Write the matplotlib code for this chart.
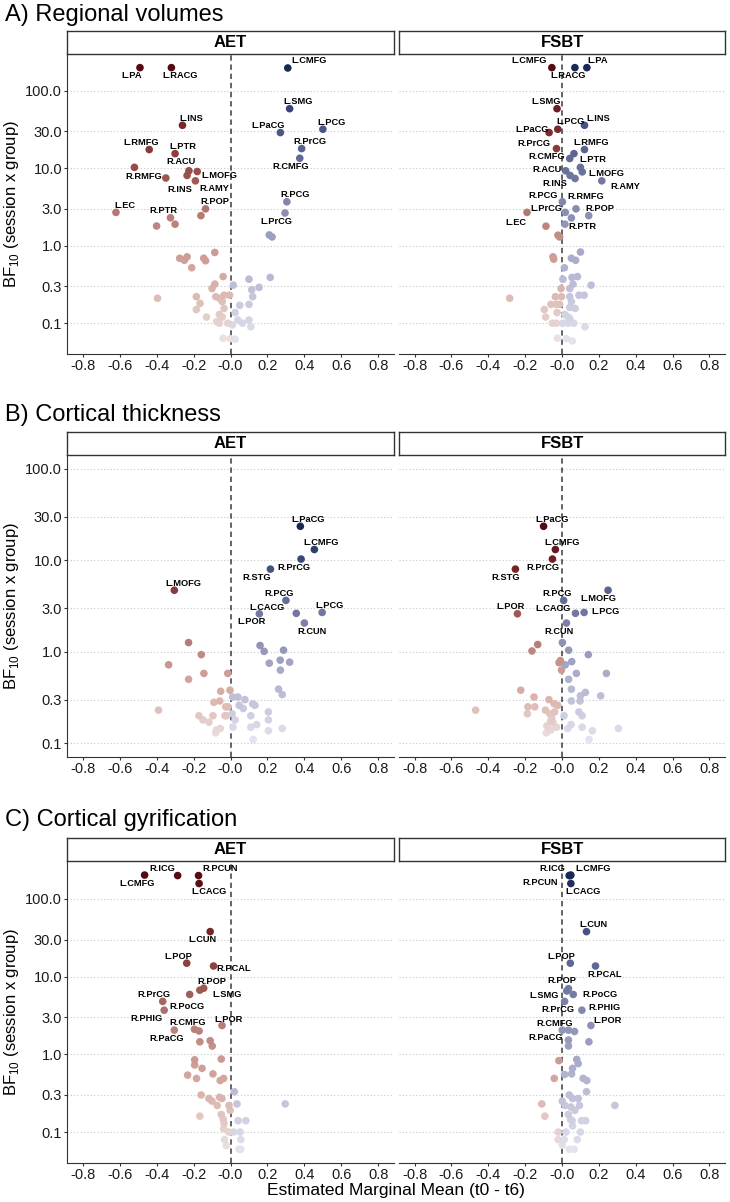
import numpy as np
import matplotlib
matplotlib.use("Agg")
import matplotlib.pyplot as plt
from matplotlib.colors import LinearSegmentedColormap
from matplotlib.ticker import FixedLocator, NullLocator

plt.rcParams['font.family'] = ['Liberation Sans', 'DejaVu Sans']
plt.rcParams['mathtext.fontset'] = 'custom'
plt.rcParams['mathtext.rm'] = 'Liberation Sans'
plt.rcParams['axes.unicode_minus'] = False

# ---------- A) Regional volumes ----------
vol_aet_lab = ['L.PA', 'L.RACG', 'L.CMFG', 'L.SMG', 'L.PaCG', 'L.PCG', 'L.INS', 'L.RMFG', 'L.PTR',
               'R.PrCG', 'R.CMFG', 'R.RMFG', 'R.ACU', 'L.MOFG', 'R.INS', 'R.AMY', 'R.POP', 'L.EC',
               'R.PTR', 'R.PCG', 'L.PrCG']
vol_aet_x = [-0.49, -0.32, 0.31, 0.32, 0.27, 0.50, -0.26, -0.44, -0.30, 0.385, 0.375, -0.52, -0.225,
             -0.18, -0.235, -0.19, -0.135, -0.62, -0.325, 0.305, 0.295]
vol_aet_bf = [200, 200, 198, 59, 29, 32, 36, 17.5, 15.5, 18, 13.5, 10.3, 9.3, 9.1, 8.1, 6.9, 3.0, 2.7,
              2.3, 3.7, 2.65]
vol_aet_x_other = [-0.35, -0.40, -0.30, -0.16, 0.21, 0.225, -0.085, -0.275, -0.25, -0.235, -0.145,
                   -0.135, -0.21, -0.04, -0.085, -0.10, -0.395, -0.185, -0.165, -0.185, -0.13, -0.08,
                   -0.06, -0.035, -0.005, -0.045, -0.035, -0.06, -0.045, -0.075, -0.06, -0.015, -0.04,
                   -0.002, 0.025, 0.10, 0.215, 0.015, 0.115, 0.155, 0.12, 0.05, 0.10, 0.025, 0.04,
                   0.065, 0.10, 0.11, 0.01]
vol_aet_bf_other = [7.5, 1.8, 1.9, 2.45, 1.38, 1.3, 0.82, 0.69, 0.65, 0.72, 0.69, 0.64, 0.52, 0.40,
                    0.32, 0.28, 0.21, 0.22, 0.18, 0.15, 0.12, 0.22, 0.21, 0.23, 0.23, 0.19, 0.155,
                    0.13, 0.12, 0.105, 0.10, 0.10, 0.064, 0.063, 0.062, 0.37, 0.39, 0.31, 0.27, 0.29,
                    0.22, 0.17, 0.175, 0.137, 0.11, 0.10, 0.11, 0.09, 0.095]

vol_fsbt_lab = ['L.CMFG', 'L.RACG', 'L.PA', 'L.SMG', 'L.INS', 'L.PCG', 'L.PaCG', 'R.PrCG', 'L.RMFG',
                'R.CMFG', 'L.PTR', 'R.ACU', 'L.MOFG', 'R.INS', 'R.AMY', 'R.PCG', 'R.RMFG', 'L.PrCG',
                'R.POP', 'L.EC', 'R.PTR']
vol_fsbt_x = [-0.055, 0.07, 0.135, -0.027, 0.122, -0.023, -0.07, -0.03, 0.122, 0.042, 0.065, 0.02,
              0.11, 0.044, 0.216, 0.002, 0.10, 0.018, 0.145, -0.19, 0.016]
vol_fsbt_bf = [200, 200, 200, 59, 36, 32, 29, 18, 17.5, 13.4, 15.5, 9.3, 9.0, 8.1, 6.9, 3.7, 10.3,
               2.7, 2.45, 2.7, 1.9]
vol_fsbt_x_other = [0.071, 0.076, 0.051, -0.087, -0.022, -0.013, 0.10, 0.051, 0.074, -0.049, -0.045,
                    0.013, 0.005, 0.054, 0.084, 0.06, 0.158, -0.005, 0.042, -0.284, -0.036, -0.003,
                    0.042, 0.092, 0.12, 0.051, -0.06, -0.03, -0.013, 0.042, 0.071, -0.096, -0.027,
                    -0.089, 0.015, 0.033, 0.042, -0.052, -0.03, 0.005, 0.033, 0.064, 0.125, -0.025,
                    0.024, 0.056]
vol_fsbt_bf_other = [7.4, 3.0, 2.29, 1.79, 1.37, 1.3, 0.83, 0.69, 0.65, 0.72, 0.67, 0.52, 0.37, 0.39,
                     0.40, 0.32, 0.31, 0.28, 0.28, 0.21, 0.22, 0.22, 0.22, 0.23, 0.23, 0.19, 0.175,
                     0.175, 0.175, 0.16, 0.155, 0.15, 0.137, 0.12, 0.13, 0.12, 0.115, 0.10, 0.10,
                     0.10, 0.10, 0.10, 0.09, 0.064, 0.063, 0.059]

# ---------- B) Cortical thickness ----------
thk_aet_lab = ['L.PaCG', 'L.CMFG', 'R.PrCG', 'R.STG', 'L.MOFG', 'R.PCG', 'L.CACG', 'L.POR', 'L.PCG',
               'R.CUN']
thk_aet_x = [0.378, 0.454, 0.382, 0.216, -0.304, 0.30, 0.356, 0.156, 0.496, 0.40]
thk_aet_bf = [23.5, 13.1, 10.3, 8.0, 4.7, 3.64, 2.63, 2.6, 2.69, 2.06]
thk_aet_x_other = [-0.227, -0.158, -0.335, -0.144, -0.227, -0.015, -0.053, -0.003, 0.16, 0.182,
                   0.287, 0.21, 0.269, 0.32, 0.27, 0.26, 0.28, 0.011, 0.04, -0.39, -0.09, -0.058,
                   -0.026, -0.013, 0.047, 0.078, 0.069, 0.12, 0.132, 0.205, -0.171, -0.149, -0.117,
                   -0.095, -0.022, 0.009, 0.025, 0.014, 0.11, 0.142, 0.11, 0.205, 0.205, 0.28,
                   -0.076, -0.055, -0.08, 0.123, -0.03]
thk_aet_bf_other = [1.26, 0.93, 0.72, 0.58, 0.50, 0.58, 0.37, 0.38, 1.17, 1.01, 1.04, 0.75, 0.81,
                    0.77, 0.63, 0.39, 0.34, 0.32, 0.32, 0.23, 0.28, 0.29, 0.25, 0.25, 0.26, 0.30,
                    0.24, 0.27, 0.26, 0.22, 0.20, 0.18, 0.17, 0.20, 0.20, 0.21, 0.18, 0.15, 0.20,
                    0.16, 0.15, 0.18, 0.137, 0.145, 0.14, 0.145, 0.13, 0.11, 0.20]

thk_fsbt_lab = ['L.PaCG', 'L.CMFG', 'R.PrCG', 'R.STG', 'L.MOFG', 'R.PCG', 'L.POR', 'L.CACG', 'L.PCG',
                'R.CUN']
thk_fsbt_x = [-0.10, -0.036, -0.052, -0.253, 0.25, 0.009, -0.242, 0.073, 0.12, 0.024]
thk_fsbt_bf = [23.5, 13.1, 10.3, 8.0, 4.7, 3.64, 2.6, 2.63, 2.69, 2.06]
thk_fsbt_x_other = [0.002, -0.132, -0.163, 0.036, 0.143, -0.016, -0.009, -0.003, 0.018, 0.053,
                    0.078, 0.241, 0.036, 0.051, -0.224, -0.152, 0.10, 0.127, 0.21, 0.051, 0.098,
                    -0.071, -0.043, -0.023, -0.469, -0.185, -0.148, -0.188, -0.09, -0.067, -0.056,
                    0.011, 0.092, 0.109, 0.049, -0.082, -0.061, -0.085, 0.109, 0.031, 0.165, 0.306,
                    0.147, -0.04, -0.05, -0.03, -0.06]
thk_fsbt_bf_other = [1.26, 1.2, 1.02, 1.04, 0.93, 0.76, 0.8, 0.63, 0.72, 0.78, 0.58, 0.58, 0.5,
                     0.39, 0.38, 0.32, 0.33, 0.36, 0.33, 0.29, 0.29, 0.30, 0.27, 0.26, 0.23, 0.25,
                     0.25, 0.21, 0.23, 0.21, 0.19, 0.20, 0.22, 0.20, 0.16, 0.155, 0.175, 0.13, 0.15,
                     0.145, 0.137, 0.145, 0.11, 0.22, 0.17, 0.15, 0.14]

# ---------- C) Cortical gyrification ----------
gyr_aet_lab = ['L.CMFG', 'R.ICG', 'R.PCUN', 'L.CACG', 'L.CUN', 'L.POP', 'R.PCAL', 'R.POP', 'L.SMG',
               'R.PoCG', 'R.PrCG', 'R.PHIG', 'R.CMFG', 'R.PaCG', 'L.POR']
gyr_aet_x = [-0.465, -0.286, -0.173, -0.17, -0.11, -0.237, -0.092, -0.145, -0.166, -0.221, -0.367,
             -0.359, -0.195, -0.304, -0.046]
gyr_aet_bf = [203, 200, 200, 158, 38, 14.9, 13.7, 7.1, 6.7, 5.9, 4.8, 3.7, 2.1, 2.05, 2.35]
gyr_aet_x_other = [-0.17, -0.166, -0.11, -0.099, -0.194, -0.194, -0.154, -0.05, -0.232, -0.184,
                   -0.095, -0.037, -0.056, -0.159, -0.117, -0.10, -0.072, -0.059, -0.046, -0.008,
                   -0.002, -0.166, -0.05, -0.039, -0.035, -0.037, -0.032, -0.023, -0.01, 0.021,
                   0.035, 0.041, 0.083, 0.017, 0.052, 0.296, 0.056, 0.046, 0.056]
gyr_aet_bf_other = [2.0, 1.45, 1.5, 1.28, 0.85, 0.73, 0.66, 0.87, 0.54, 0.49, 0.56, 0.49, 0.46,
                    0.30, 0.27, 0.25, 0.22, 0.28, 0.27, 0.22, 0.19, 0.16, 0.168, 0.146, 0.13, 0.11,
                    0.08, 0.067, 0.10, 0.33, 0.23, 0.14, 0.14, 0.10, 0.10, 0.23, 0.08, 0.06, 0.06]

gyr_fsbt_lab = ['R.ICG', 'L.CMFG', 'R.PCUN', 'L.CACG', 'L.CUN', 'L.POP', 'R.PCAL', 'R.POP', 'L.SMG',
                'R.PoCG', 'R.PrCG', 'R.PHIG', 'L.POR', 'R.CMFG', 'R.PaCG']
gyr_fsbt_x = [0.039, 0.048, 0.045, 0.048, 0.133, 0.045, 0.182, 0.035, 0.026, 0.061, 0.014, 0.108,
              0.157, 0.035, 0.001]
gyr_fsbt_bf = [200, 203, 200, 158, 38, 14.9, 13.7, 7.0, 6.55, 5.9, 4.8, 3.7, 2.35, 2.05, 2.05]
gyr_fsbt_x_other = [0.068, 0.035, 0.035, 0.146, -0.017, 0.08, 0.088, 0.057, -0.042, 0.014, 0.052,
                    0.115, 0.135, 0.133, 0.039, 0.057, 0.088, 0.001, -0.11, 0.016, 0.048, 0.095,
                    0.287, 0.07, 0.034, 0.046, 0.055, -0.093, 0.106, 0.129, 0.057, -0.021, 0.021,
                    0.1, -0.021, 0.012, 0.083, 0.001, 0.039, 0.066]
gyr_fsbt_bf_other = [1.97, 1.53, 1.28, 1.45, 0.83, 0.86, 0.76, 0.66, 0.49, 0.55, 0.56, 0.49, 0.46,
                     0.33, 0.30, 0.27, 0.27, 0.25, 0.23, 0.22, 0.21, 0.22, 0.22, 0.19, 0.168, 0.145,
                     0.14, 0.16, 0.14, 0.14, 0.12, 0.10, 0.10, 0.10, 0.08, 0.08, 0.08, 0.068, 0.06,
                     0.06]

# label nudges in pixels (ggrepel placement copied by eye), same order as the label lists
vol_aet_nudge = [(-8, -8), (9, -8), (21, 7), (9, 7), (-12, 7), (9, 7), (9, 7), (-8, 7), (8, 7),
                 (8, 7), (-9, -8), (9, -9), (-8, 9), (22, -4), (-7, -14), (19, -8), (9, 7), (9, 7),
                 (-7, 7), (8, 7), (-9, -8)]
vol_fsbt_nudge = [(-23, 7), (-7, -8), (11, 7), (-11, 7), (14, 7), (13, 8), (-17, 3), (-23, 5),
                  (7, 7), (-23, 2), (19, -6), (-19, 1), (24, -2), (-15, -8), (24, -6), (-19, 6),
                  (5, -29), (-19, 4), (11, 7), (-11, -10), (17, -2)]
thk_aet_nudge = [(8, 7), (7, 7), (-7, -8), (-14, -8), (9, 7), (-7, 7), (-29, 6), (-8, -8), (7, 7),
                 (8, -8)]
thk_fsbt_nudge = [(9, 7), (7, 7), (-9, -8), (-10, -8), (-10, -8), (-7, 7), (-7, 7), (-22, 5),
                  (21, 1), (-7, -8)]
gyr_aet_nudge = [(-7, -8), (-15, 7), (22, 7), (10, -8), (-8, -8), (-8, 7), (20, -2), (8, 7), (27, -4),
                 (-3, -12), (-9, 7), (-18, -8), (-7, 7), (-8, -8), (7, 6)]
gyr_fsbt_nudge = [(-17, 7), (22, 7), (-30, -7), (12, -8), (7, 7), (-9, 7), (9, -8), (-7, 8),
                  (-23, -5), (27, 0), (-7, -8), (23, 3), (17, 5), (-14, 7), (-16, -7)]

groups = ['AET', 'FSBT']
panel_titles = ['A) Regional volumes', 'B) Cortical thickness', 'C) Cortical gyrification']
panel_ylims = [(0.06, 200), (0.1, 100), (0.06, 205)]

panels = [
    [(vol_aet_lab, vol_aet_x, vol_aet_bf, vol_aet_x_other, vol_aet_bf_other, vol_aet_nudge),
     (vol_fsbt_lab, vol_fsbt_x, vol_fsbt_bf, vol_fsbt_x_other, vol_fsbt_bf_other, vol_fsbt_nudge)],
    [(thk_aet_lab, thk_aet_x, thk_aet_bf, thk_aet_x_other, thk_aet_bf_other, thk_aet_nudge),
     (thk_fsbt_lab, thk_fsbt_x, thk_fsbt_bf, thk_fsbt_x_other, thk_fsbt_bf_other, thk_fsbt_nudge)],
    [(gyr_aet_lab, gyr_aet_x, gyr_aet_bf, gyr_aet_x_other, gyr_aet_bf_other, gyr_aet_nudge),
     (gyr_fsbt_lab, gyr_fsbt_x, gyr_fsbt_bf, gyr_fsbt_x_other, gyr_fsbt_bf_other, gyr_fsbt_nudge)],
]

y_ticks = [0.1, 0.3, 1, 3, 10, 30, 100]
y_ticklabels = ['0.1', '0.3', '1.0', '3.0', '10.0', '30.0', '100.0']
x_ticks = np.round(np.arange(-0.8, 0.81, 0.2), 1)

red_cm = LinearSegmentedColormap.from_list('reds', [
    (0.0, '#ebe2e3'), (0.2, '#dab2aa'), (0.35, '#c9968e'), (0.5, '#ad726c'),
    (0.63, '#964b48'), (0.8, '#782426'), (1.0, '#550a14')])
blue_cm = LinearSegmentedColormap.from_list('blues', [
    (0.0, '#e3e3ee'), (0.2, '#bebfd7'), (0.35, '#a2a5c5'), (0.5, '#8488ad'),
    (0.63, '#69709b'), (0.8, '#435282'), (1.0, '#1a2855')])


def point_colors(x, bf, lo, hi):
    t = (np.log10(bf) - np.log10(lo)) / (np.log10(hi) - np.log10(lo))
    t = np.clip(t, 0, 1)
    return [red_cm(v) if xi < 0 else blue_cm(v) for xi, v in zip(x, t)]


# ---------- layout (pixels) ----------
W, H = 730, 1202
facet_x = [(67, 394), (399, 725)]
panel_y = [(54, 354), (455, 757), (861, 1163)]
title_y = [15, 415, 820]
strip_h = 23


def px_box(x0, y0, x1, y1):
    return [x0 / W, 1 - y1 / H, (x1 - x0) / W, (y1 - y0) / H]


fig = plt.figure(figsize=(W / 100, H / 100), dpi=100)

for p, (facets, title, (ylo, yhi)) in enumerate(zip(panels, panel_titles, panel_ylims)):
    y0, y1 = panel_y[p]
    fig.text(5 / W, 1 - title_y[p] / H, title, fontsize=17, ha='left', va='center')

    all_bf = np.concatenate([np.r_[f[2], f[4]] for f in facets])
    lo, hi = all_bf.min(), all_bf.max()
    span = np.log10(yhi) - np.log10(ylo)
    ylim = (10 ** (np.log10(ylo) - 0.05 * span), 10 ** (np.log10(yhi) + 0.05 * span))

    for g, (lab, x, bf, xo, bfo, nudge) in enumerate(facets):
        fx0, fx1 = facet_x[g]
        ax = fig.add_axes(px_box(fx0, y0, fx1, y1))

        xs = np.r_[x, xo]
        bfs = np.r_[bf, bfo]
        order = np.argsort(bfs)
        cols = point_colors(xs, bfs, lo, hi)
        ax.scatter(xs[order], bfs[order], s=30, c=[cols[i] for i in order],
                   linewidths=0, zorder=3)

        for name, xi, bi, (dx, dy) in zip(lab, x, bf, nudge):
            ax.annotate(name, (xi, bi), xytext=(dx, dy), textcoords='offset pixels',
                        ha='center', va='center', fontsize=6.7, fontweight='bold',
                        color='black', zorder=4)

        ax.axvline(0, color='#3a3a3a', lw=1.1, dashes=(3.5, 2.5), zorder=2)
        ax.set_yscale('log')
        ax.set_ylim(ylim)
        ax.set_xlim(-0.885, 0.885)
        ax.yaxis.set_major_locator(FixedLocator(y_ticks))
        ax.yaxis.set_minor_locator(NullLocator())
        ax.set_yticklabels(y_ticklabels)
        ax.set_xticks(x_ticks)
        ax.set_xticklabels(['%.1f' % v for v in x_ticks])
        ax.grid(axis='y', linestyle=(0, (1, 2)), color='#c8c8c8', lw=0.8, zorder=1)
        ax.set_axisbelow(True)

        for side in ['top', 'right']:
            ax.spines[side].set_visible(False)
        ax.spines['bottom'].set_color('#333333')
        ax.spines['left'].set_color('#333333')
        ax.tick_params(axis='both', labelsize=10.5, length=2, width=0.8, color='#333333',
                       pad=1.5, labelcolor='#1a1a1a')
        if g == 1:
            ax.spines['left'].set_visible(False)
            ax.tick_params(axis='y', left=False, labelleft=False)

        # facet strip
        sax = fig.add_axes(px_box(fx0, y0 - strip_h, fx1, y0))
        sax.set_xticks([])
        sax.set_yticks([])
        sax.set_facecolor('white')
        for sp in sax.spines.values():
            sp.set_color('#333333')
            sp.set_linewidth(1)
        sax.text(0.5, 0.5, groups[g], ha='center', va='center', fontsize=12,
                 fontweight='bold', transform=sax.transAxes)

    fig.text(12 / W, 1 - (y0 + y1) / 2 / H, r'BF$_{\mathregular{10}}$ (session x group)',
             rotation=90, ha='center', va='center', fontsize=12)

fig.text((67 + 725) / 2 / W, 1 - 1191 / H, 'Estimated Marginal Mean (t0 - t6)',
         ha='center', va='center', fontsize=12.5)

fig.savefig('out.png', dpi=100)
